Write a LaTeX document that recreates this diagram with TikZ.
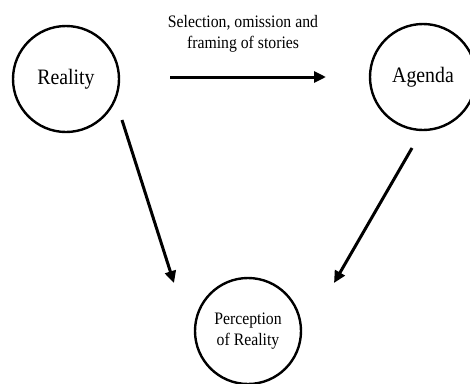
\documentclass[tikz,border=0pt]{standalone}
\usepackage{fontspec}
\setmainfont{Liberation Serif}[FakeStretch=0.9]
\usetikzlibrary{arrows.meta}
\begin{document}
\begin{tikzpicture}[x=1pt,y=-1pt,
  bubble/.style={circle,draw=black,line width=2.4pt,minimum size=106pt,inner sep=0pt,align=center},
  bigtext/.style={font=\fontsize{22}{24}\selectfont},
  smalltext/.style={font=\fontsize{17.5}{21}\selectfont,align=center},
  arr/.style={line width=3pt,-{Triangle[length=12pt,width=11pt]}}]
\useasboundingbox (0,0) rectangle (470,383);
\node[bubble,bigtext] (real) at (66,79) {Reality};
\node[bubble,bigtext] (agenda) at (423,77) {Agenda};
\node[bubble,smalltext] (perc) at (248,331) {Perception\\of Reality};
\coordinate (h1) at (170,77);
\coordinate (h2) at (326,77);
\coordinate (l1) at (122,120);
\coordinate (l2) at (174,283);
\coordinate (r1) at (412,148);
\coordinate (r2) at (334,283);
\draw[arr] (h1) -- (h2);
\draw[arr] (l1) -- (l2);
\draw[arr] (r1) -- (r2);
\node[smalltext] (lab) at (243,33.5) {Selection, omission and\\framing of stories};
\end{tikzpicture}
\end{document}
